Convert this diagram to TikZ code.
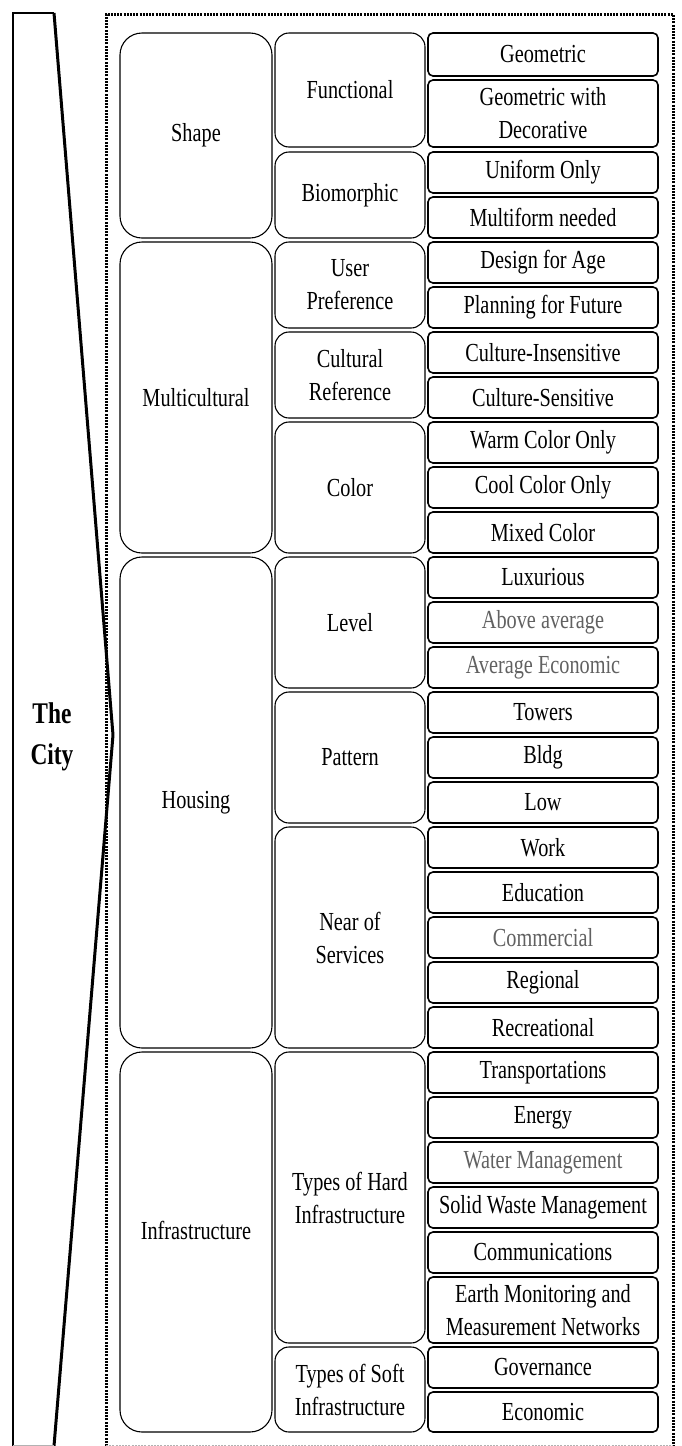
\documentclass[tikz,border=0pt]{standalone}
\usepackage{fontspec}
\setmainfont{Liberation Serif}[FakeStretch=0.78]
\begin{document}
\begin{tikzpicture}[x=1pt,y=-1pt,
  txt/.style={font=\fontsize{26}{33}\selectfont, align=center, text=black, inner sep=0pt},
  box/.style={draw=black, line width=1.1pt, fill=white, txt},
  topbox/.style={box, rounded corners=22pt, minimum width=152pt},
  midbox/.style={box, rounded corners=14pt, minimum width=150pt},
  leafbox/.style={box, rounded corners=5pt, line width=1.6pt, minimum width=230pt},
  soft/.style={text=black!62},
  frame/.style={line width=3pt, dash pattern=on 2pt off 1.2pt},
  wedge/.style={line width=3pt, line join=round},
]
\useasboundingbox (0,0) rectangle (681,1446);

% column helpers: name, top edge, bottom edge, text
\newcommand\mktop[4]{\node[topbox, minimum height={#3-#2}] (#1) at (196,{(#2+#3)/2}) {#4};}
\newcommand\mkmid[4]{\node[midbox, minimum height={#3-#2}] (#1) at (350,{(#2+#3)/2}) {#4};}
\newcommand\mkleaf[5][]{\node[leafbox, minimum height={#4-#3}, #1] (#2) at (543,{(#3+#4)/2}) {#5};}

% the wedge on the left
\draw[line width=2.5pt] (13,1446) -- (13,13) -- (54,13);
\draw[wedge] (54,13) -- (113,735) -- (54,1446);
\draw[line width=0.6pt, black!30] (13,1445.5) -- (54,1445.5);
\node[font=\fontsize{30}{41}\selectfont\bfseries, align=center, inner sep=0pt] (city) at (52,737) {The\\City};

% dotted frame
\draw[frame] (106,1446) -- (106,14) -- (673,14) -- (673,1446);
\draw[line width=0.6pt, black!30, dash pattern=on 2pt off 1.2pt] (106,1445.5) -- (673,1445.5);

% first level
\mktop{shape}{33}{238}{Shape}
\mktop{multi}{242}{553}{Multicultural}
\mktop{housing}{557}{1048}{Housing}
\mktop{infra}{1052}{1432}{}
\node[txt] (infralabel) at ([yshift=12pt]infra.center) {Infrastructure};

% second level
\mkmid{functional}{33}{147}{Functional}
\mkmid{biomorphic}{152}{238}{Biomorphic}
\mkmid{userpref}{242}{328}{User\\Preference}
\mkmid{cultref}{332}{418}{Cultural\\Reference}
\mkmid{color}{422}{553}{Color}
\mkmid{level}{557}{688}{Level}
\mkmid{pattern}{692}{823}{Pattern}
\mkmid{near}{827}{1048}{Near of\\Services}
\mkmid{hard}{1052}{1343}{Types of Hard\\Infrastructure}
\mkmid{soft}{1347}{1432}{Types of Soft\\Infrastructure}

% third level
\mkleaf{geo}{33}{76}{Geometric}
\mkleaf{geodec}{80}{147}{Geometric with\\Decorative}
\mkleaf{uniform}{152}{193}{Uniform Only}
\mkleaf{multiform}{197}{238}{Multiform needed}
\mkleaf{age}{242}{283}{Design for Age}
\mkleaf{future}{287}{328}{Planning for Future}
\mkleaf{cinsens}{332}{373}{Culture-Insensitive}
\mkleaf{csens}{377}{418}{Culture-Sensitive}
\mkleaf{warm}{422}{463}{Warm Color Only}
\mkleaf{cool}{467}{508}{Cool Color Only}
\mkleaf{mixed}{512}{553}{Mixed Color}
\mkleaf{lux}{557}{598}{Luxurious}
\mkleaf[soft]{above}{602}{643}{Above average}
\mkleaf[soft]{avgeco}{647}{688}{Average Economic}
\mkleaf{towers}{692}{733}{Towers}
\mkleaf{bldg}{737}{778}{Bldg}
\mkleaf{low}{782}{823}{Low}
\mkleaf{work}{827}{868}{Work}
\mkleaf{edu}{872}{913}{Education}
\mkleaf[soft]{commercial}{917}{958}{Commercial}
\mkleaf{regional}{962}{1003}{Regional}
\mkleaf{recreational}{1007}{1048}{Recreational}
\mkleaf{transport}{1052}{1093}{Transportations}
\mkleaf{energy}{1097}{1138}{Energy}
\mkleaf[soft]{water}{1142}{1183}{Water Management}
\mkleaf{solid}{1187}{1228}{Solid Waste Management}
\mkleaf{comm}{1232}{1273}{Communications}
\mkleaf{earth}{1277}{1343}{Earth Monitoring and\\Measurement Networks}
\mkleaf{gov}{1347}{1388}{Governance}
\mkleaf{econ}{1392}{1432}{Economic}
\end{tikzpicture}
\end{document}
